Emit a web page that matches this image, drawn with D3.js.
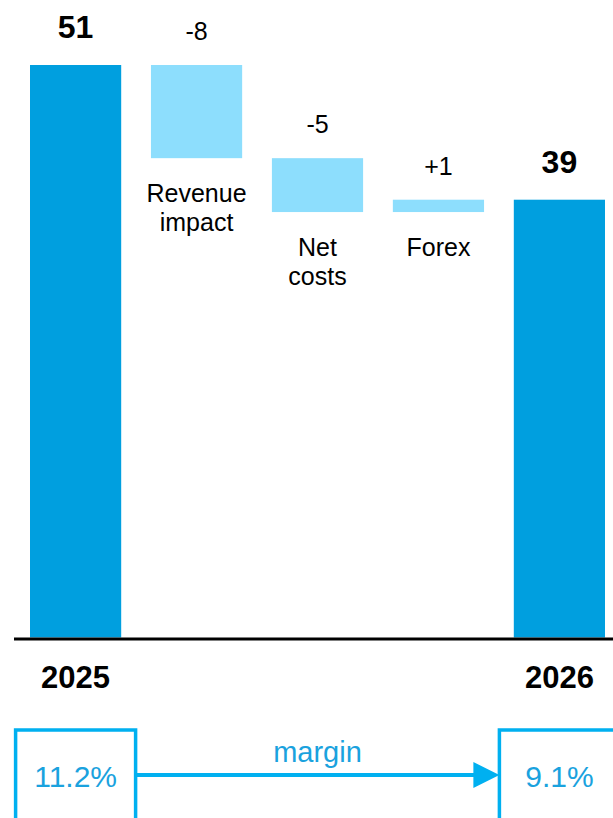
<!DOCTYPE html>
<html>
<head>
<meta charset="utf-8">
<script src="https://cdn.jsdelivr.net/npm/d3@7"></script>
<style>
  body { margin: 0; background: #fff; }
  svg { display: block; font-family: "Liberation Sans", Arial, sans-serif; }
</style>
</head>
<body>
<svg id="chart" width="613" height="818"></svg>
<script>
// data
const categories = ['2025', 'Revenue impact', 'Net costs', 'Forex', '2026']
const values = [51, -8.3, -4.8, 1.1, 39]
const kinds = ['total', 'delta', 'delta', 'delta', 'total']
const marginValues = ['11.2%', '9.1%']
const marginLabel = 'margin'

const svgEl = document.getElementById('chart')
const width = +svgEl.getAttribute('width')
const height = +svgEl.getAttribute('height')
const svg = d3.select('#chart')

const darkBlue = '#009fdf'
const lightBlue = '#8ddefd'
const lineBlue = '#00b0f0'
const textBlue = '#1aa2de'
const baseY = 637.5

// running totals for the waterfall
let running = 0
const bars = categories.map((c, i) => {
	let start, end
	if (kinds[i] === 'total') {
		start = 0
		end = values[i]
		running = values[i]
	} else {
		start = running
		end = running + values[i]
		running = end
	}
	return { name: c, value: values[i], kind: kinds[i], lo: Math.min(start, end), hi: Math.max(start, end) }
})

const xScale = d3.scaleBand()
	.domain(categories)
	.range([30, 605])
	.paddingInner(0.246)
	.paddingOuter(0)

const yScale = d3.scaleLinear()
	.domain([0, 51])
	.range([baseY, 65])

const fmt = d3.formatLocale({ decimal: '.', thousands: ',', grouping: [3], currency: ['', ''], minus: '-' }).format('+.0f')

// bars
svg.selectAll('rect.bar')
	.data(bars)
	.enter()
	.append('rect')
		.attr('class', 'bar')
		.attr('x', d => xScale(d.name))
		.attr('y', d => yScale(d.hi))
		.attr('width', xScale.bandwidth())
		.attr('height', d => yScale(d.lo) - yScale(d.hi))
		.attr('fill', d => d.kind === 'total' ? darkBlue : lightBlue)

// baseline
svg.append('line')
	.attr('x1', 14)
	.attr('x2', width)
	.attr('y1', yScale(0) + 1.5)
	.attr('y2', yScale(0) + 1.5)
	.attr('stroke', '#000')
	.attr('stroke-width', 3)

const cx = d => xScale(d.name) + xScale.bandwidth() / 2

// value labels
svg.selectAll('text.value')
	.data(bars)
	.enter()
	.append('text')
		.attr('class', 'value')
		.attr('x', cx)
		.attr('y', d => yScale(d.hi) - (d.kind === 'total' ? 27 : 25))
		.attr('text-anchor', 'middle')
		.style('font-size', d => d.kind === 'total' ? '32px' : '25px')
		.style('font-weight', d => d.kind === 'total' ? 'bold' : 'normal')
		.attr('fill', '#000')
		.text(d => d.kind === 'total' ? d.value : fmt(d.value))

// category labels: totals under the axis, deltas under their bar
const catLabels = svg.selectAll('text.cat')
	.data(bars)
	.enter()
	.append('text')
		.attr('class', 'cat')
		.attr('text-anchor', 'middle')
		.attr('fill', '#000')
		.attr('x', cx)
		.attr('y', d => d.kind === 'total' ? yScale(0) + 50.5 : yScale(d.lo) + 43.5)
		.style('font-size', d => d.kind === 'total' ? '31px' : '25px')
		.style('font-weight', d => d.kind === 'total' ? 'bold' : 'normal')

catLabels.each(function(d) {
	const words = d.name.split(' ')
	d3.select(this).selectAll('tspan')
		.data(words)
		.enter()
		.append('tspan')
			.attr('x', cx(d))
			.attr('dy', (w, j) => j === 0 ? 0 : 29.5)
			.text(w => w)
})

// margin boxes
const totals = bars.filter(d => d.kind === 'total')
const boxTop = 730
const boxW = 120

svg.selectAll('rect.mbox')
	.data(totals)
	.enter()
	.append('rect')
		.attr('class', 'mbox')
		.attr('x', d => cx(d) - boxW / 2)
		.attr('y', boxTop)
		.attr('width', boxW)
		.attr('height', 200)
		.attr('fill', 'none')
		.attr('stroke', lineBlue)
		.attr('stroke-width', 3.5)

svg.selectAll('text.mval')
	.data(totals)
	.enter()
	.append('text')
		.attr('class', 'mval')
		.attr('x', cx)
		.attr('y', 787)
		.attr('text-anchor', 'middle')
		.attr('fill', textBlue)
		.style('font-size', '30px')
		.text((d, i) => marginValues[i])

// arrow between the boxes
const ax1 = cx(totals[0]) + boxW / 2
const ax2 = cx(totals[1]) - boxW / 2
const arrowY = 775

svg.append('line')
	.attr('x1', ax1)
	.attr('x2', ax2 - 24)
	.attr('y1', arrowY)
	.attr('y2', arrowY)
	.attr('stroke', lineBlue)
	.attr('stroke-width', 4)

svg.append('path')
	.attr('d', `M ${ax2 - 26} ${arrowY - 13} L ${ax2} ${arrowY} L ${ax2 - 26} ${arrowY + 13} Z`)
	.attr('fill', lineBlue)

svg.append('text')
	.attr('x', (ax1 + ax2) / 2)
	.attr('y', 762)
	.attr('text-anchor', 'middle')
	.attr('fill', textBlue)
	.style('font-size', '29px')
	.text(marginLabel)
</script>
</body>
</html>
